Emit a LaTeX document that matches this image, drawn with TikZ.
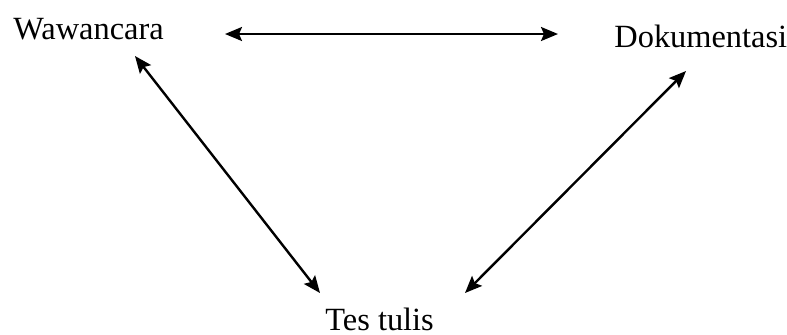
\documentclass[tikz,border=0pt]{standalone}
\usepackage{fontspec}
\setmainfont{Liberation Serif}
\usetikzlibrary{arrows.meta}

\begin{document}
\begin{tikzpicture}[x=0.5pt, y=-0.5pt, >={Stealth[length=8.5pt, width=7pt, inset=1.5pt]},
  label/.style={inner sep=0pt, anchor=base west, font=\fontsize{16.2}{19}\selectfont},
  link/.style={<->, line width=1.2pt}]

  % 画布范围
  \useasboundingbox (0,0) rectangle (787,334);

  % 1. 三个方法
  \node[label] (waw) at (13, 39)  {Wawancara};
  \node[label] (dok) at (614, 47) {Dokumentasi};
  \node[label] (tes) at (325, 330) {Tes tulis};

  % 2. 箭头端点
  \coordinate (wawR) at (225, 34);
  \coordinate (dokL) at (558, 34);
  \coordinate (wawB) at (135, 56);
  \coordinate (tesL) at (320, 293);
  \coordinate (dokB) at (686, 71);
  \coordinate (tesR) at (465, 293);

  % 3. 双向箭头
  \draw[link] (wawR) -- (dokL);
  \draw[link] (wawB) -- (tesL);
  \draw[link] (dokB) -- (tesR);

\end{tikzpicture}
\end{document}
